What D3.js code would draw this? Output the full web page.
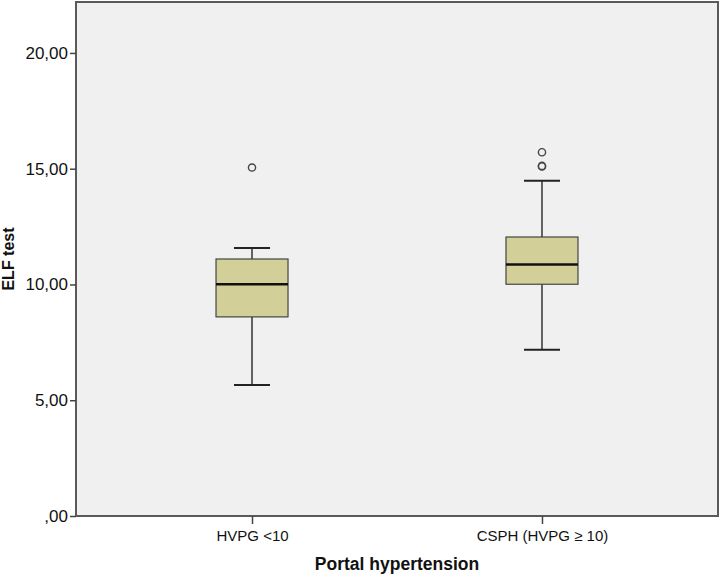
<!DOCTYPE html>
<html><head><meta charset="utf-8">
<script src="https://cdn.jsdelivr.net/npm/d3@7"></script>
<style>body{margin:0;background:#fff;}svg{display:block;}</style>
</head><body>
<svg id="c" width="721" height="575"></svg>
<script>
const categories = ["HVPG <10", "CSPH (HVPG ≥ 10)"];
const whiskerLow = [5.66, 7.18];
const q1 = [8.60, 10.01];
const median = [10.01, 10.86];
const q3 = [11.10, 12.05];
const whiskerHigh = [11.58, 14.48];
const outliers = [[15.05], [15.71, 15.12, 15.10]];
const yTicks = [0, 5, 10, 15, 20];

const svg = d3.select("#c");
const L = 76, R = 718, T = 2, B = 516;
const y = d3.scaleLinear().domain([0, 22.2]).range([B, T]);
const x = d3.scalePoint().domain(categories).range([L, R]).padding(0.607);
const boxW = 72, capW = 36;

svg.append("rect").attr("x", L).attr("y", T).attr("width", R - L).attr("height", B - T)
  .attr("fill", "#f0f0f0").attr("stroke", "#5a5a5a").attr("stroke-width", 2);

const fmt = d => d === 0 ? ",00" : d.toFixed(2).replace(".", ",");
const ya = svg.append("g").attr("transform", `translate(${L},0)`)
  .call(d3.axisLeft(y).tickValues(yTicks).tickFormat(fmt).tickSize(6).tickPadding(2));
ya.select(".domain").remove();
ya.selectAll("line").attr("stroke", "#444").attr("stroke-width", 1.5);
ya.selectAll("text").attr("font-family", "Liberation Sans, Arial, sans-serif").attr("font-size", 17).attr("fill", "#111");

const xa = svg.append("g").attr("transform", `translate(0,${B})`)
  .call(d3.axisBottom(x).tickSize(8).tickPadding(6));
xa.select(".domain").remove();
xa.selectAll("line").attr("stroke", "#444").attr("stroke-width", 1.5);
xa.selectAll("text").attr("font-family", "Liberation Sans, Arial, sans-serif").attr("font-size", 15).attr("fill", "#111");

categories.forEach((c, i) => {
  const cx = x(c);
  const g = svg.append("g");
  g.append("line").attr("x1", cx).attr("x2", cx).attr("y1", y(whiskerLow[i])).attr("y2", y(q1[i]))
    .attr("stroke", "#333").attr("stroke-width", 1.5);
  g.append("line").attr("x1", cx).attr("x2", cx).attr("y1", y(q3[i])).attr("y2", y(whiskerHigh[i]))
    .attr("stroke", "#333").attr("stroke-width", 1.5);
  [whiskerLow[i], whiskerHigh[i]].forEach(v => {
    g.append("line").attr("x1", cx - capW / 2).attr("x2", cx + capW / 2).attr("y1", y(v)).attr("y2", y(v))
      .attr("stroke", "#222").attr("stroke-width", 2);
  });
  g.append("rect").attr("x", cx - boxW / 2).attr("y", y(q3[i])).attr("width", boxW)
    .attr("height", y(q1[i]) - y(q3[i])).attr("fill", "#d3cf98").attr("stroke", "#444").attr("stroke-width", 1.2);
  g.append("line").attr("x1", cx - boxW / 2).attr("x2", cx + boxW / 2).attr("y1", y(median[i])).attr("y2", y(median[i]))
    .attr("stroke", "#111").attr("stroke-width", 2.5);
  outliers[i].forEach(v => {
    g.append("circle").attr("cx", cx).attr("cy", y(v)).attr("r", 3.6)
      .attr("fill", "none").attr("stroke", "#444").attr("stroke-width", 1.4);
  });
});

svg.append("text").attr("x", (L + R) / 2).attr("y", 570).attr("text-anchor", "middle")
  .attr("font-family", "Liberation Sans, Arial, sans-serif").attr("font-weight", "bold").attr("font-size", 17.5)
  .attr("fill", "#111").text("Portal hypertension");
svg.append("text").attr("transform", `translate(14,${(T + B) / 2}) rotate(-90)`).attr("text-anchor", "middle")
  .attr("font-family", "Liberation Sans, Arial, sans-serif").attr("font-weight", "bold").attr("font-size", 16)
  .attr("fill", "#111").text("ELF test");
</script>
</body></html>
